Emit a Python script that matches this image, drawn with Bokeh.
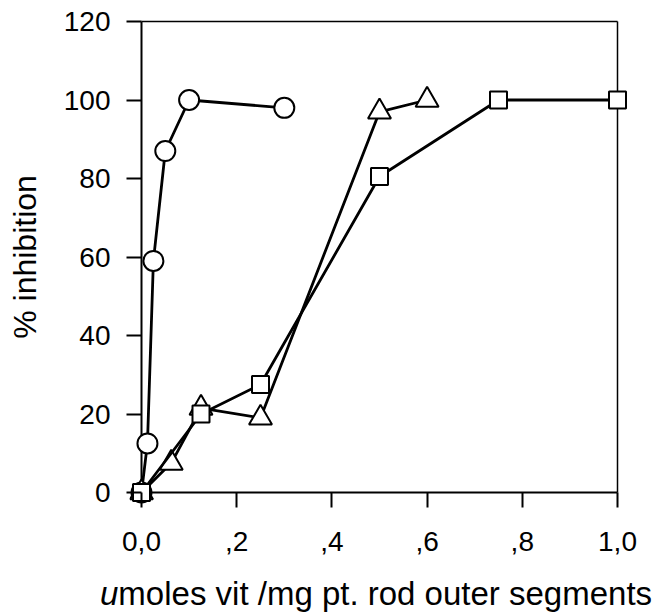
from bokeh.plotting import figure
from bokeh.models import FixedTicker, Range1d, Div
from bokeh.layouts import column
from bokeh.embed import file_html
from bokeh.resources import INLINE

# Data
circ_x = [0.0, 0.0125, 0.025, 0.05, 0.1, 0.3]
circ_y = [0.0, 12.5, 59.0, 87.0, 100.0, 98.0]

tri_x = [0.0, 0.0625, 0.125, 0.25, 0.5, 0.6]
tri_y = [0.0, 7.5, 21.5, 19.0, 97.0, 100.0]

sq_x = [0.0, 0.125, 0.25, 0.5, 0.75, 1.0]
sq_y = [0.0, 20.0, 27.5, 80.5, 100.0, 100.0]

x_ticks = [0.0, 0.2, 0.4, 0.6, 0.8, 1.0]
x_tick_labels = ["0,0", ",2", ",4", ",6", ",8", "1,0"]
y_ticks = [0, 20, 40, 60, 80, 100, 120]

X_MIN, X_MAX = 0.0, 1.0
Y_MIN, Y_MAX = 0, 120

FONT = "Liberation Sans"

# padding (in pixels) so markers on the axes are not clipped
PAD = 12
FRAME_W = 476
FRAME_H = 471
px_x = (X_MAX - X_MIN) / FRAME_W
px_y = (Y_MAX - Y_MIN) / FRAME_H

p = figure(width=655, height=570, output_backend="svg", toolbar_location=None,
           x_range=Range1d(X_MIN - PAD * px_x, X_MAX + PAD * px_x),
           y_range=Range1d(Y_MIN - PAD * px_y, Y_MAX + PAD * px_y),
           min_border_left=141 - PAD, min_border_right=38 - PAD,
           min_border_top=21 - PAD, min_border_bottom=570 - 492 - PAD)
p.margin = 0
p.grid.visible = False
p.outline_line_color = None
p.background_fill_color = "white"
p.border_fill_color = "white"

# box: axis lines (bottom/left) and top/right border
p.segment(x0=[X_MIN, X_MIN], y0=[Y_MIN, Y_MIN], x1=[X_MAX, X_MIN], y1=[Y_MIN, Y_MAX],
          line_color="black", line_width=2)
p.segment(x0=[X_MIN, X_MAX], y0=[Y_MAX, Y_MIN], x1=[X_MAX, X_MAX], y1=[Y_MAX, Y_MAX],
          line_color="black", line_width=1.5)

# series
p.line(circ_x, circ_y, line_color="black", line_width=2.8)
p.scatter(circ_x, circ_y, marker="circle", size=20, fill_color="white",
          line_color="black", line_width=2)
p.line(tri_x, tri_y, line_color="black", line_width=2.8)
p.scatter(tri_x, tri_y, marker="triangle", size=23, fill_color="white",
          line_color="black", line_width=2)
p.line(sq_x, sq_y, line_color="black", line_width=2.8)
p.scatter(sq_x, sq_y, marker="square", size=17, fill_color="white",
          line_color="black", line_width=2)

# axes (ticks reach into the padding so they start at the box edge)
for ax in (p.xaxis[0], p.yaxis[0]):
    ax.axis_line_color = None
    ax.major_tick_line_width = 2
    ax.major_tick_line_color = "black"
    ax.major_tick_out = 15 - PAD
    ax.major_tick_in = PAD
    ax.minor_tick_line_color = None
    ax.major_label_text_font = FONT
    ax.major_label_text_font_size = "28px"
    ax.major_label_text_color = "black"

p.xaxis.ticker = FixedTicker(ticks=x_ticks)
p.xaxis.major_label_overrides = {t: l for t, l in zip(x_ticks, x_tick_labels)}
p.xaxis.major_label_standoff = 24
p.yaxis.ticker = FixedTicker(ticks=y_ticks)
p.yaxis.major_label_standoff = 16

p.yaxis.axis_label = "% inhibition"
p.yaxis.axis_label_text_font = FONT
p.yaxis.axis_label_text_font_size = "32px"
p.yaxis.axis_label_text_font_style = "normal"
p.yaxis.axis_label_text_color = "black"
p.yaxis.axis_label_standoff = 18

# x axis title with italic "u"
xtitle = Div(text="<i>u</i>moles vit /mg pt. rod outer segments",
             width=655, height=45, margin=0,
             styles={"font-family": FONT, "font-size": "33px", "color": "black",
                     "line-height": "48px", "padding-left": "100px",
                     "white-space": "nowrap"})

layout = column(p, xtitle, spacing=0)
open("out.html", "w").write(file_html(layout, INLINE))
